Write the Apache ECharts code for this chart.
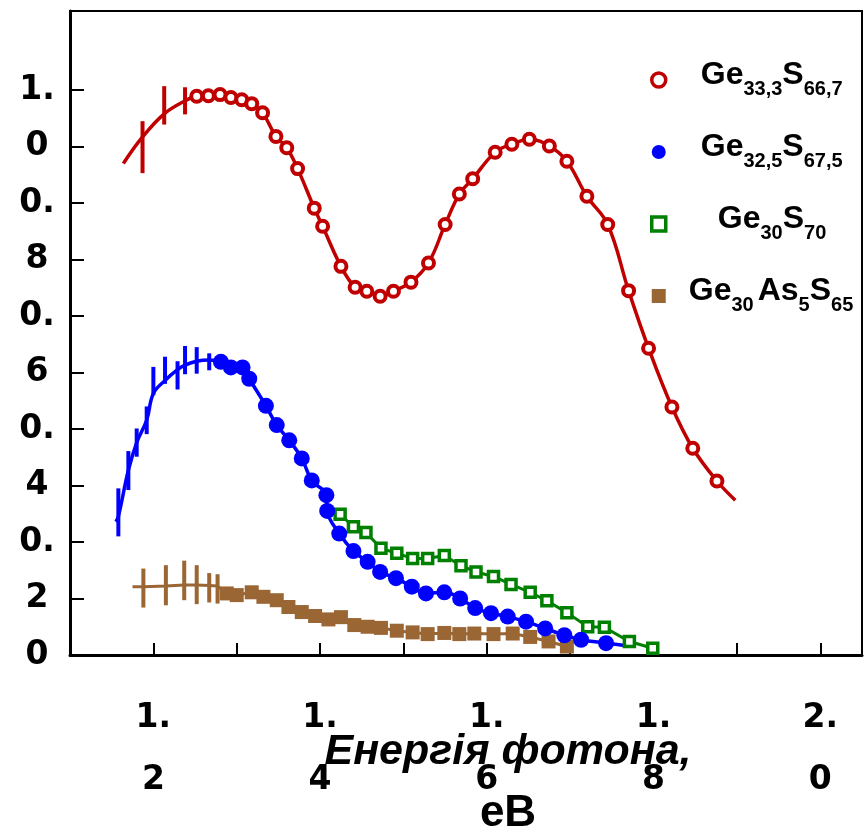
<!DOCTYPE html>
<html><head><meta charset="utf-8">
<script src="https://cdn.jsdelivr.net/npm/echarts@6/dist/echarts.min.js"></script>
<style>html,body{margin:0;padding:0;background:#fff}#c{width:865px;height:832px}</style>
</head><body><div id="c"></div>
<script>
// ---- data ----
const legendNames = ['Ge33,3S66,7', 'Ge32,5S67,5', 'Ge30S70', 'Ge30As5S65'];
// [text, kind]: 0 = normal, 1 = subscript, 2 = small gap
const legendParts = [
  [['Ge', 0], ['33,3', 1], ['S', 0], ['66,7', 1]],
  [['Ge', 0], ['32,5', 1], ['S', 0], ['67,5', 1]],
  [['Ge', 0], ['30', 1], ['S', 0], ['70', 1]],
  [['Ge', 0], ['30', 1], [' ', 2], ['As', 0], ['5', 1], ['S', 0], ['65', 1]]
];
const yTickLabels = ['0', '0.2', '0.4', '0.6', '0.8', '1.0'];
const xTickLabels = ['1.2', '1.4', '1.6', '1.8', '2.0'];
const xAxisTitle = 'Енергія фотона,';
const xAxisUnit = 'eB';

// Ge33,3S66,7 (red)
const redLeadX = [1.164, 1.187, 1.213, 1.238];
const redLeadY = [0.870, 0.917, 0.958, 0.981];
const redX = [1.252,1.266,1.280,1.293,1.306,1.318,1.331,1.347,1.360,1.373,1.393,1.403,1.425,1.442,1.456,1.472,1.488,1.509,1.530,1.550,1.567,1.583,1.610,1.630,1.651,1.675,1.696,1.720,1.745,1.770,1.794,1.822,1.847,1.876];
const redY = [0.989,0.990,0.992,0.987,0.983,0.976,0.960,0.918,0.898,0.861,0.791,0.759,0.688,0.651,0.644,0.635,0.644,0.660,0.694,0.762,0.816,0.843,0.890,0.904,0.913,0.901,0.874,0.812,0.762,0.645,0.543,0.439,0.366,0.308];
const redTailX = [1.898];
const redTailY = [0.274];
const redErrX = [1.187, 1.213, 1.238];
const redErrLo = [0.853, 0.939, 0.957];
const redErrHi = [0.945, 1.007, 1.005];

// Ge32,5S67,5 (blue)
const blueLeadX = [1.155,1.158,1.170,1.180,1.192,1.200,1.214,1.229,1.238,1.252,1.267];
const blueLeadY = [0.236,0.245,0.327,0.376,0.416,0.463,0.486,0.505,0.513,0.520,0.522];
const blueX = [1.281,1.293,1.307,1.315,1.335,1.348,1.363,1.378,1.390,1.4075,1.4085,1.423,1.440,1.457,1.472,1.491,1.510,1.527,1.549,1.568,1.586,1.605,1.625,1.647,1.670,1.693,1.713,1.743];
const blueY = [0.519,0.509,0.509,0.489,0.441,0.407,0.380,0.348,0.309,0.283,0.255,0.215,0.184,0.165,0.147,0.136,0.121,0.109,0.111,0.100,0.083,0.074,0.068,0.059,0.047,0.035,0.027,0.021];
const blueTailX = [1.770];
const blueTailY = [0.016];
const blueErrX = [1.158,1.170,1.180,1.192,1.200,1.214,1.229,1.238,1.252,1.267];
const blueErrLo = [0.210,0.292,0.351,0.391,0.460,0.480,0.470,0.497,0.498,0.504];
const blueErrHi = [0.295,0.361,0.401,0.440,0.510,0.528,0.520,0.547,0.545,0.534];

// Ge30S70 (green)
const greenX = [1.424,1.440,1.455,1.473,1.492,1.511,1.529,1.549,1.569,1.587,1.608,1.629,1.652,1.672,1.696,1.721,1.741,1.771,1.799];
const greenY = [0.249,0.227,0.217,0.189,0.180,0.171,0.171,0.176,0.158,0.147,0.139,0.125,0.111,0.096,0.075,0.050,0.049,0.024,0.012];

// Ge30As5S65 (brown)
const brownLeadX = [1.175,1.188,1.215,1.237,1.252,1.267,1.277];
const brownLeadY = [0.121,0.121,0.122,0.124,0.124,0.123,0.122];
const brownX = [1.288,1.300,1.318,1.332,1.348,1.362,1.378,1.394,1.410,1.425,1.441,1.457,1.473,1.492,1.511,1.529,1.549,1.567,1.585,1.608,1.631,1.652,1.674,1.696];
const brownY = [0.109,0.106,0.111,0.103,0.097,0.085,0.076,0.069,0.063,0.067,0.053,0.050,0.048,0.043,0.040,0.037,0.039,0.037,0.038,0.037,0.038,0.032,0.024,0.015];
const brownErrX = [1.188,1.215,1.237,1.252,1.267,1.277];
const brownErrLo = [0.084,0.088,0.097,0.090,0.093,0.091];
const brownErrHi = [0.153,0.159,0.167,0.159,0.145,0.143];

// ---- build ----
const RED = '#c00000', BLUE = '#0000ff', GREEN = '#008000', BROWN = '#9a6634';
const FONT = 'Liberation Sans, Arial, sans-serif';
const TICKFONT = 'DejaVu Sans, sans-serif';
const zip = (xs, ys) => xs.map((x, i) => [x, ys[i]]);
const zip3 = (xs, a, b) => xs.map((x, i) => [x, a[i], b[i]]);
const yTicks = [];
for (let k = 0; k <= (yTickLabels.length - 1) * 2; k++) yTicks.push(k / 10);
const xTicks = [];
for (let k = 11; k <= 20; k++) xTicks.push(k / 10);

function errSeries(data, color, w) {
  return {
    type: 'custom', data: data, silent: true, z: 3,
    encode: { x: 0, y: [1, 2] },
    renderItem: function (params, api) {
      const p1 = api.coord([api.value(0), api.value(1)]);
      const p2 = api.coord([api.value(0), api.value(2)]);
      return { type: 'line', shape: { x1: p1[0], y1: p1[1], x2: p2[0], y2: p2[1] }, style: { stroke: color, lineWidth: w } };
    }
  };
}
function curve(data, color, w, smooth) {
  return { type: 'line', data: data, showSymbol: false, symbol: 'none', smooth: smooth, lineStyle: { color: color, width: w }, z: 2, silent: true };
}

const legendPads = [30, 30, 47, 18];
const rich = {
  m: { fontFamily: FONT, fontWeight: 'bold', fontSize: 32, lineHeight: 36, padding: [0, 0, 10, 0], color: '#000' },
  s: { fontFamily: FONT, fontWeight: 'bold', fontSize: 20, lineHeight: 22, padding: [18, 0, 0, 0], color: '#000' },
  g: { width: 4, fontSize: 10 }
};
legendPads.forEach((p, i) => { rich['p' + i] = { width: p, fontSize: 10 }; });
const kindStyle = ['m', 's', 'g'];

const option = {
  backgroundColor: '#fff',
  animation: false,
  grid: { left: 70, right: 3, top: 11, bottom: 177, show: true, borderColor: '#000', borderWidth: 2, outerBoundsMode: 'none', containLabel: false },
  xAxis: {
    type: 'value', min: 1.1, max: 2.05,
    axisLine: { show: true, onZero: false, lineStyle: { color: '#000', width: 3 } },
    axisTick: { show: true, inside: true, length: 12, customValues: xTicks, lineStyle: { color: '#000', width: 2 } },
    splitLine: { show: false },
    axisLabel: {
      margin: 32, lineHeight: 62, fontSize: 33, fontWeight: 'bold', fontFamily: TICKFONT, color: '#000',
      customValues: xTicks,
      formatter: function (v) {
        const k = Math.round(v * 10);
        if (k % 2 !== 0) return '';
        const lab = xTickLabels[(k - 12) / 2];
        if (!lab) return '';
        return lab.slice(0, 2) + '\n' + lab.slice(2);
      }
    },
    name: '{i|' + xAxisTitle + '}\n{n|' + xAxisUnit + '}',
    nameLocation: 'middle', nameGap: 66, nameMoveOverlap: false,
    nameTextStyle: {
      padding: [0, 0, 0, 84],
      rich: {
        i: { fontFamily: FONT, fontStyle: 'italic', fontWeight: 'bold', fontSize: 43, lineHeight: 62, color: '#000' },
        n: { fontFamily: FONT, fontWeight: 'bold', fontSize: 44, lineHeight: 62, color: '#000' }
      }
    }
  },
  yAxis: {
    type: 'value', min: 0, max: 1.14,
    axisLine: { show: true, lineStyle: { color: '#000', width: 3 } },
    axisTick: { show: true, inside: true, length: 14, customValues: yTicks, lineStyle: { color: '#000', width: 2 } },
    splitLine: { show: false },
    axisLabel: {
      margin: 33, align: 'center', fontSize: 33, fontWeight: 'bold', fontFamily: TICKFONT, color: '#000',
      customValues: yTicks,
      formatter: function (v) {
        const k = Math.round(v * 10);
        if (k % 2 === 0) { const lab = yTickLabels[k / 2]; return lab.length > 1 ? lab.slice(0, 2) : lab; }
        const lab = yTickLabels[(k + 1) / 2];
        return lab ? lab.slice(2) : '';
      }
    }
  },
  legend: {
    orient: 'vertical', left: 650, top: 59, padding: 0, itemWidth: 14, itemHeight: 14, itemGap: 30,
    selectedMode: false,
    textStyle: { rich: rich },
    formatter: function (name) {
      const i = legendNames.indexOf(name);
      return '{p' + i + '| }' + legendParts[i].map(p => '{' + kindStyle[p[1]] + '|' + p[0] + '}').join('');
    },
    data: [
      { name: legendNames[0], icon: 'circle', itemStyle: { color: '#fff', borderColor: RED, borderWidth: 3.5, opacity: 1 } },
      { name: legendNames[1], icon: 'circle', itemStyle: { color: BLUE, borderWidth: 0, opacity: 1 } },
      { name: legendNames[2], icon: 'rect', itemStyle: { color: '#fff', borderColor: GREEN, borderWidth: 3.5, opacity: 1 } },
      { name: legendNames[3], icon: 'rect', itemStyle: { color: BROWN, borderWidth: 0, opacity: 1 } }
    ]
  },
  series: [
    curve(zip(redLeadX, redLeadY).concat(zip(redX, redY), zip(redTailX, redTailY)), RED, 3.5, 0.4),
    curve(zip(blueLeadX, blueLeadY).concat(zip(blueX, blueY), zip(blueTailX, blueTailY)), BLUE, 3.5, 0.4),
    curve(zip(greenX, greenY), GREEN, 3, false),
    curve(zip(brownLeadX, brownLeadY).concat(zip(brownX, brownY)), BROWN, 3, false),
    errSeries(zip3(redErrX, redErrLo, redErrHi), RED, 4),
    errSeries(zip3(blueErrX, blueErrLo, blueErrHi), BLUE, 4),
    errSeries(zip3(brownErrX, brownErrLo, brownErrHi), BROWN, 4),
    { name: legendNames[3], type: 'scatter', data: zip(brownX, brownY), symbol: 'rect', symbolSize: 14, itemStyle: { color: BROWN, opacity: 1 }, z: 4 },
    { name: legendNames[2], type: 'scatter', data: zip(greenX, greenY), symbol: 'rect', symbolSize: 10, itemStyle: { color: '#fff', borderColor: GREEN, borderWidth: 3.5, opacity: 1 }, z: 4 },
    { name: legendNames[1], type: 'scatter', data: zip(blueX, blueY), symbol: 'circle', symbolSize: 16, itemStyle: { color: BLUE, opacity: 1 }, z: 4 },
    { name: legendNames[0], type: 'scatter', data: zip(redX, redY), symbol: 'circle', symbolSize: 11, itemStyle: { color: '#fff', borderColor: RED, borderWidth: 4, opacity: 1 }, z: 4 }
  ]
};
echarts.init(document.getElementById('c'), null, { renderer: 'canvas' }).setOption(option);
</script>
</body></html>
